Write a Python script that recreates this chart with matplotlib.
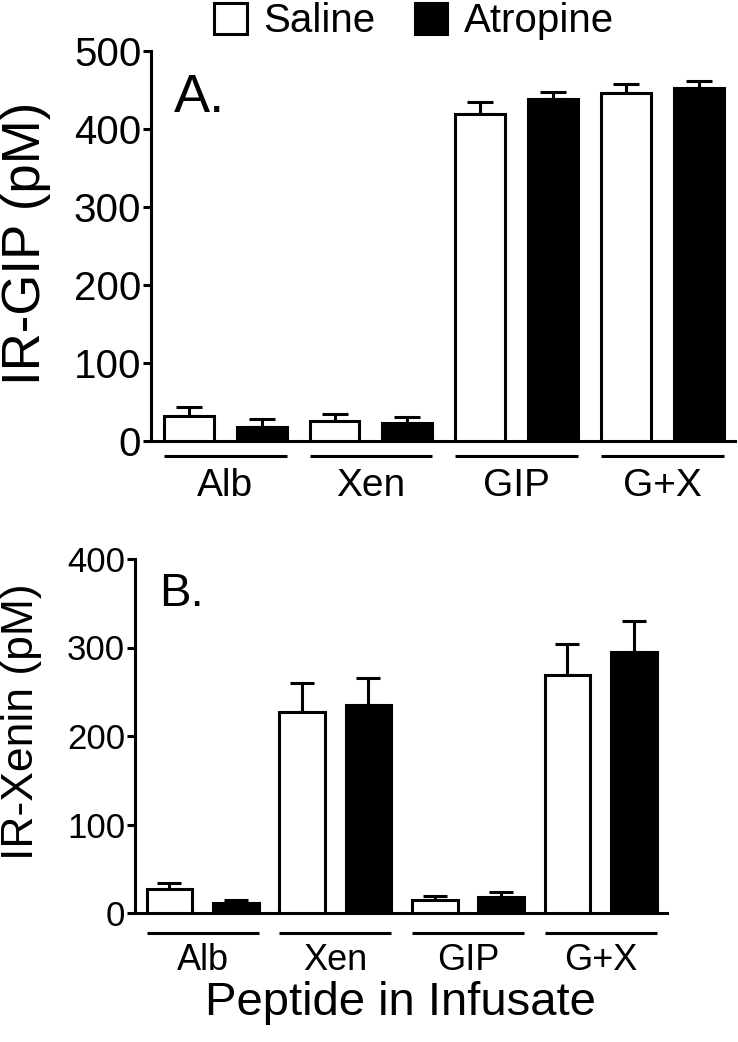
"""Two-panel bar chart: IR-GIP and IR-Xenin after peptide infusion, saline vs atropine."""
import matplotlib.pyplot as plt
import numpy as np
from matplotlib.patches import Patch
from matplotlib.transforms import blended_transform_factory

plt.rcParams["font.family"] = ["Liberation Sans", "DejaVu Sans"]

groups = ["Alb", "Xen", "GIP", "G+X"]

# panel A: IR-GIP (pM)
gip_saline = [32, 26, 419, 446]
gip_saline_sem = [11, 8, 16, 12]
gip_atropine = [18, 23, 439, 452]
gip_atropine_sem = [10, 8, 8, 9]

# panel B: IR-Xenin (pM)
xen_saline = [27, 227, 15, 269]
xen_saline_sem = [7, 33, 4, 35]
xen_atropine = [11, 235, 18, 295]
xen_atropine_sem = [4, 31, 6, 35]

W, H = 738, 1042
fig = plt.figure(figsize=(W / 100, H / 100), dpi=100)


def px_axes(left, right, top, bottom):
    return fig.add_axes([left / W, 1 - bottom / H, (right - left) / W, (bottom - top) / H])


def panel(ax, sal, sal_err, atr, atr_err, ymax, width, cap, tick_fs, lab_fs,
          line_y, label_y):
    n = len(groups)
    xs_sal = np.arange(n) * 2
    xs_atr = xs_sal + 1
    lw = 2.2
    ax.bar(xs_sal, sal, width, color="white", edgecolor="black", linewidth=lw, zorder=3)
    ax.bar(xs_atr, atr, width, color="black", edgecolor="black", linewidth=lw, zorder=3)
    for xs, v, e in [(xs_sal, sal, sal_err), (xs_atr, atr, atr_err)]:
        ax.errorbar(xs, v, yerr=[np.zeros(n), e], fmt="none", ecolor="black",
                    elinewidth=lw, capsize=cap, capthick=lw, zorder=2)
    ax.set_ylim(0, ymax)
    ax.set_xlim(-0.52, 2 * n - 0.5)
    ax.set_yticks(np.arange(0, ymax + 1, 100))
    ax.set_xticks([])
    for s in ["top", "right"]:
        ax.spines[s].set_visible(False)
    for s in ["left", "bottom"]:
        ax.spines[s].set_linewidth(lw)
    ax.tick_params(axis="y", direction="out", length=6, width=lw,
                   labelsize=tick_fs, pad=1)
    tr = blended_transform_factory(ax.transData, ax.transAxes)
    for g, name in enumerate(groups):
        x0 = xs_sal[g] - width / 2
        x1 = xs_atr[g] + width / 2
        ax.plot([x0, x1], [line_y, line_y], color="black", lw=lw,
                transform=tr, clip_on=False, solid_capstyle="butt")
        ax.text((x0 + x1) / 2, label_y, name, transform=tr, ha="center",
                va="center", fontsize=lab_fs)


axA = px_axes(151, 735, 51, 441)
panel(axA, gip_saline, gip_saline_sem, gip_atropine, gip_atropine_sem, 500,
      0.685, 9.4, 29, 28, -0.038, -0.115)
axA.text(0.04, 0.88, "A.", transform=axA.transAxes, fontsize=39,
         ha="left", va="center")
fig.text(26 / W, 1 - 243 / H, "IR-GIP (pM)", rotation=90, ha="center",
         va="center", fontsize=38)

axB = px_axes(135, 667, 559, 913)
panel(axB, xen_saline, xen_saline_sem, xen_atropine, xen_atropine_sem, 400,
      0.69, 8.3, 25, 26, -0.056, -0.135)
axB.text(0.045, 0.9, "B.", transform=axB.transAxes, fontsize=34,
         ha="left", va="center")
fig.text(22 / W, 1 - 722 / H, "IR-Xenin (pM)", rotation=90, ha="center",
         va="center", fontsize=32)
fig.text(400 / W, 1 - 1003 / H, "Peptide in Infusate", ha="center",
         va="center", fontsize=34)

handles = [Patch(facecolor="white", edgecolor="black", linewidth=2.2),
           Patch(facecolor="black", edgecolor="black", linewidth=2.2)]
fig.legend(handles, ["Saline", "Atropine"], loc="upper center",
           bbox_to_anchor=(414 / W, 1.017), ncol=2, frameon=False, fontsize=29,
           handlelength=0.8, handleheight=0.8, handletextpad=0.4,
           columnspacing=1.0, borderaxespad=0.1)

fig.savefig("out.png", dpi=100)
